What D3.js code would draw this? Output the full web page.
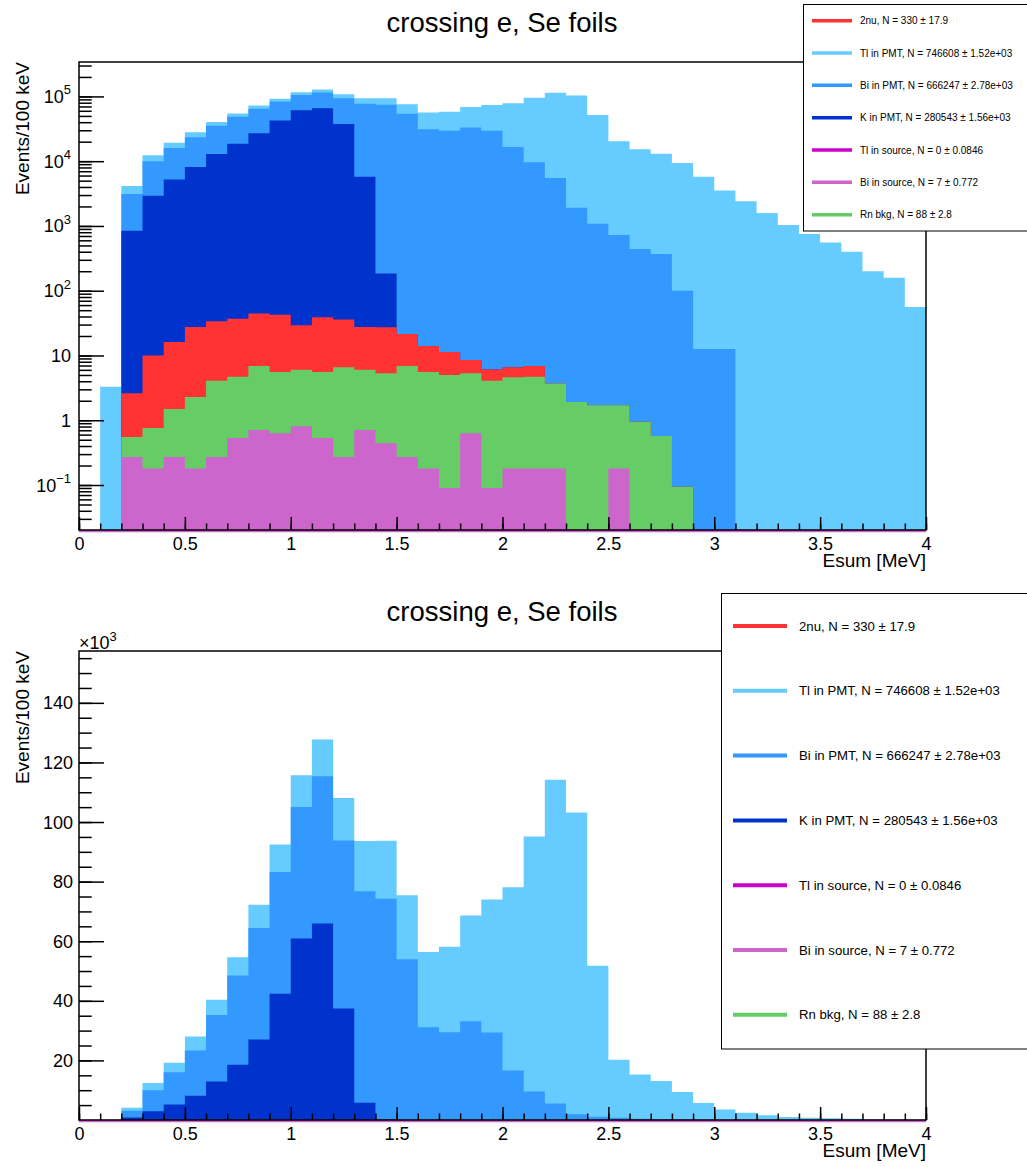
<!DOCTYPE html>
<html>
<head>
<meta charset="utf-8">
<script src="https://cdnjs.cloudflare.com/ajax/libs/d3/7.8.5/d3.min.js"></script>
<style>
  body { margin: 0; background: #fff; }
  text { font-family: 'Liberation Sans', Arial, Helvetica, sans-serif; fill: #000; }
</style>
</head>
<body>
<svg id="canvas" width="1027" height="1167"></svg>
<script>
// ************************************************************************************************** //
// Data (Esum, 100 keV bins)

var bin_edges = [0, 0.1, 0.2, 0.3, 0.4, 0.5, 0.6, 0.7, 0.8, 0.9, 1.0, 1.1, 1.2, 1.3, 1.4, 1.5, 1.6, 1.7, 1.8, 1.9,
                 2.0, 2.1, 2.2, 2.3, 2.4, 2.5, 2.6, 2.7, 2.8, 2.9, 3.0, 3.1, 3.2, 3.3, 3.4, 3.5, 3.6, 3.7, 3.8, 3.9, 4.0];

var tl_pmt = [0, 3.3, 1020, 2400, 3200, 4700, 5100, 6100, 7800, 9200, 10700, 12400, 14200, 16900, 19400, 21500, 25300, 28700, 35500, 44600,
              61500, 85500, 108700, 101300, 50700, 19500, 14800, 12700, 9300, 5730, 3500, 2400, 1580, 1030, 750, 557, 400, 199, 159, 56];
var bi_pmt = [0, 0, 2270, 7070, 10800, 15200, 22300, 30000, 37400, 40900, 44100, 49400, 56400, 71000, 74100, 53900, 31100, 29400, 33100, 29400,
              16600, 9600, 5500, 1900, 1080, 724, 440, 368, 100, 12.6, 12.6, 0, 0, 0, 0, 0, 0, 0, 0, 0];
var k_pmt = [0, 0, 840, 2920, 5200, 8100, 12900, 18500, 27000, 42300, 60900, 65900, 37400, 5720, 158, 0, 0, 0, 0, 0,
             0, 0, 0, 0, 0, 0, 0, 0, 0, 0, 0, 0, 0, 0, 0, 0, 0, 0, 0, 0];
var two_nu = [0, 0, 2.05, 9.24, 14.6, 25.2, 29.6, 32.3, 37.8, 37.0, 23.2, 33.3, 29.5, 21.5, 21.9, 14.5, 8.45, 6.31, 3.2, 2.03,
              1.96, 2.17, 0, 0, 0, 0, 0, 0, 0, 0, 0, 0, 0, 0, 0, 0, 0, 0, 0, 0];
var rn_bkg = [0, 0, 0.28, 0.58, 1.22, 2.10, 3.80, 4.17, 6.16, 4.92, 5.19, 5.02, 6.29, 5.29, 4.86, 6.60, 5.37, 4.90, 4.67, 3.98,
              4.42, 4.52, 3.52, 1.91, 1.70, 1.52, 0.95, 0.57, 0.094, 0, 0, 0, 0, 0, 0, 0, 0, 0, 0, 0];
var bi_source = [0, 0, 0.27, 0.18, 0.27, 0.18, 0.27, 0.53, 0.71, 0.63, 0.81, 0.53, 0.27, 0.71, 0.44, 0.27, 0.18, 0.09, 0.63, 0.09,
                 0.18, 0.18, 0.18, 0, 0, 0.18, 0, 0, 0, 0, 0, 0, 0, 0, 0, 0, 0, 0, 0, 0];
var tl_source = [0, 0, 0, 0, 0, 0, 0, 0, 0, 0, 0, 0, 0, 0, 0, 0, 0, 0, 0, 0,
                 0, 0, 0, 0, 0, 0, 0, 0, 0, 0, 0, 0, 0, 0, 0, 0, 0, 0, 0, 0];

var series = { tl_pmt: tl_pmt, bi_pmt: bi_pmt, k_pmt: k_pmt, two_nu: two_nu, rn_bkg: rn_bkg, bi_source: bi_source, tl_source: tl_source };

// stack bottom -> top
var stack_keys = ['tl_source', 'bi_source', 'rn_bkg', 'two_nu', 'k_pmt', 'bi_pmt', 'tl_pmt'];

// legend (top -> bottom)
var legend_keys = ['two_nu', 'tl_pmt', 'bi_pmt', 'k_pmt', 'tl_source', 'bi_source', 'rn_bkg'];
var legend_labels = ['2nu, N = 330 \u00b1 17.9', 'Tl in PMT, N = 746608 \u00b1 1.52e+03', 'Bi in PMT, N = 666247 \u00b1 2.78e+03',
                     'K in PMT, N = 280543 \u00b1 1.56e+03', 'Tl in source, N = 0 \u00b1 0.0846', 'Bi in source, N = 7 \u00b1 0.772',
                     'Rn bkg, N = 88 \u00b1 2.8'];

var colors = { two_nu: '#ff3333', tl_pmt: '#66ccff', bi_pmt: '#3399ff', k_pmt: '#0033cc',
               tl_source: '#cc00cc', bi_source: '#cc66cc', rn_bkg: '#66cc66' };

// axes
var x_major = [0, 0.5, 1, 1.5, 2, 2.5, 3, 3.5, 4];
var log_range = [0.0202, 3.4e5];
var log_major = [0.1, 1, 10, 100, 1e3, 1e4, 1e5];
var log_labels = [['10', '\u22121'], ['1', ''], ['10', ''], ['10', '2'], ['10', '3'], ['10', '4'], ['10', '5']];
var lin_range = [0, 157400];
var lin_major = [20000, 40000, 60000, 80000, 100000, 120000, 140000];
var lin_labels = ['20', '40', '60', '80', '100', '120', '140'];

var title = 'crossing e, Se foils';
var frame_left = 79, frame_right = 926;

// ************************************************************************************************** //
// Panel

function Panel(top, bottom, is_log, legend){
  this.top = top;
  this.bottom = bottom;
  this.is_log = is_log;
  this.legend = legend;

  this.xScale = d3.scaleLinear().domain([0, 4]).range([frame_left, frame_right]);
  if(is_log){
    this.yScale = d3.scaleLog().domain(log_range).range([bottom, top]).clamp(true);
  } else {
    this.yScale = d3.scaleLinear().domain(lin_range).range([bottom, top]).clamp(true);
  }
  this.g = d3.select('#canvas').append('g');

  this.drawStack();
  this.drawAxes();
  this.drawLegend();
}

// ************************************************************************************************** //
// Stack

Panel.prototype.drawStack = function(){
  var rows = bin_edges.map(function(e, i){
    var j = Math.min(i, bin_edges.length-2);
    var r = {};
    stack_keys.forEach(function(k){ r[k] = series[k][j]; });
    return r;
  });
  var layers = d3.stack().keys(stack_keys)(rows);
  var self = this;
  var ymin = this.yScale.domain()[0];

  var area = d3.area().curve(d3.curveStepAfter)
    .x(function(d, i){ return self.xScale(bin_edges[i]); })
    .y0(this.bottom)
    .y1(function(d){ return self.yScale(Math.max(d[1], ymin)); });

  layers.slice().reverse().forEach(function(layer){
    self.g.append('path').attr('d', area(layer))
      .style('fill', colors[layer.key]).style('stroke', 'none');
  });

  // empty source histograms sit on the floor
  this.g.append('line')
    .attr('x1', this.xScale(0)).attr('x2', this.xScale(4))
    .attr('y1', this.bottom+1).attr('y2', this.bottom+1)
    .style('stroke', colors.bi_source).style('stroke-width', 2.5);
}

// ************************************************************************************************** //
// Axes

Panel.prototype.drawAxes = function(){
  var self = this;
  var font = "'Liberation Sans', Arial, Helvetica, sans-serif";

  // x axis
  var xminor = this.g.append('g').attr('transform', 'translate(0,' + this.bottom + ')')
    .call(d3.axisBottom(this.xScale).tickValues(bin_edges).tickSize(-6.5).tickFormat(''));
  var xmajor = this.g.append('g').attr('transform', 'translate(0,' + this.bottom + ')')
    .call(d3.axisBottom(this.xScale).tickValues(x_major).tickSize(-13).tickFormat(function(d){ return d; }));
  [xminor, xmajor].forEach(function(a){
    a.select('.domain').remove();
    a.selectAll('line').style('stroke', '#000').style('stroke-width', 1.5);
  });
  xmajor.selectAll('text').attr('y', 0).attr('dy', 0)
    .attr('transform', 'translate(0,20)')
    .style('font-family', font).style('font-size', '18px').attr('fill', '#000');

  // y axis
  var minors, majors;
  if(this.is_log){
    minors = this.yScale.ticks().filter(function(v){ return v > log_range[0] && v < log_range[1]; });
    majors = log_major;
  } else {
    minors = this.yScale.ticks(30).filter(function(v){ return v > 0; });
    majors = lin_major;
  }
  var yminor = this.g.append('g').attr('transform', 'translate(' + frame_left + ',0)')
    .call(d3.axisLeft(this.yScale).tickValues(minors).tickSize(-12.7).tickFormat(''));
  var ymajor = this.g.append('g').attr('transform', 'translate(' + frame_left + ',0)')
    .call(d3.axisLeft(this.yScale).tickValues(majors).tickSize(-25).tickFormat(''));
  [yminor, ymajor].forEach(function(a){
    a.select('.domain').remove();
    a.selectAll('line').style('stroke', '#000').style('stroke-width', 1.5);
  });

  if(this.is_log){
    log_major.forEach(function(v, i){
      var t = self.g.append('text')
        .attr('x', 71).attr('y', self.yScale(v) + 6.5)
        .attr('text-anchor', 'end').style('font-size', '18px')
        .text(log_labels[i][0]);
      if(log_labels[i][1] != ''){
        t.append('tspan').attr('dy', -8.5).style('font-size', '13px').text(log_labels[i][1]);
      }
    });
  } else {
    lin_major.forEach(function(v, i){
      self.g.append('text')
        .attr('x', 73).attr('y', self.yScale(v) + 6.5)
        .attr('text-anchor', 'end').style('font-size', '18px')
        .text(lin_labels[i]);
    });
    var mult = this.g.append('text').attr('x', 79).attr('y', this.top - 2).style('font-size', '18px').text('\u00d710');
    mult.append('tspan').attr('dy', -8).style('font-size', '13px').text('3');
  }

  // frame
  this.g.append('rect')
    .attr('x', frame_left).attr('y', this.top)
    .attr('width', frame_right - frame_left).attr('height', this.bottom - this.top)
    .style('fill', 'none').style('stroke', '#000').style('stroke-width', 1.5);

  // titles
  this.g.append('text')
    .attr('x', 502).attr('y', this.top - 30)
    .attr('text-anchor', 'middle').style('font-size', '27.5px')
    .text(title);
  this.g.append('text')
    .attr('x', frame_right).attr('y', this.bottom + 37)
    .attr('text-anchor', 'end').style('font-size', '19px')
    .text('Esum [MeV]');
  this.g.append('text')
    .attr('transform', 'translate(29,' + this.top + ') rotate(-90)')
    .attr('text-anchor', 'end').style('font-size', '19px')
    .text('Events/100 keV');
}

// ************************************************************************************************** //
// Legend

Panel.prototype.drawLegend = function(){
  var L = this.legend;
  var g = this.g.append('g');
  g.append('rect')
    .attr('x', L.x).attr('y', L.y).attr('width', L.w).attr('height', L.h)
    .style('fill', '#fff').style('stroke', '#000').style('stroke-width', 1);

  legend_keys.forEach(function(k, i){
    var y = L.y0 + i*L.step;
    g.append('line')
      .attr('x1', L.lx1).attr('x2', L.lx2).attr('y1', y).attr('y2', y)
      .style('stroke', colors[k]).style('stroke-width', L.lw);
    g.append('text')
      .attr('x', L.tx).attr('y', y).attr('dominant-baseline', 'central')
      .style('font-size', L.fs + 'px')
      .text(legend_labels[i]);
  });
}

// ************************************************************************************************** //
// Draw

var top_panel = new Panel(62, 530, true,
  { x: 803.5, y: 4.5, w: 260, h: 226.5, y0: 20.7, step: 32.33, lx1: 812, lx2: 852, lw: 3.5, tx: 860, fs: 10 });
var bottom_panel = new Panel(651, 1120, false,
  { x: 721.5, y: 593.5, w: 340, h: 455.5, y0: 626, step: 64.8, lx1: 733, lx2: 787, lw: 4, tx: 799, fs: 13.2 });
</script>
</body>
</html>
